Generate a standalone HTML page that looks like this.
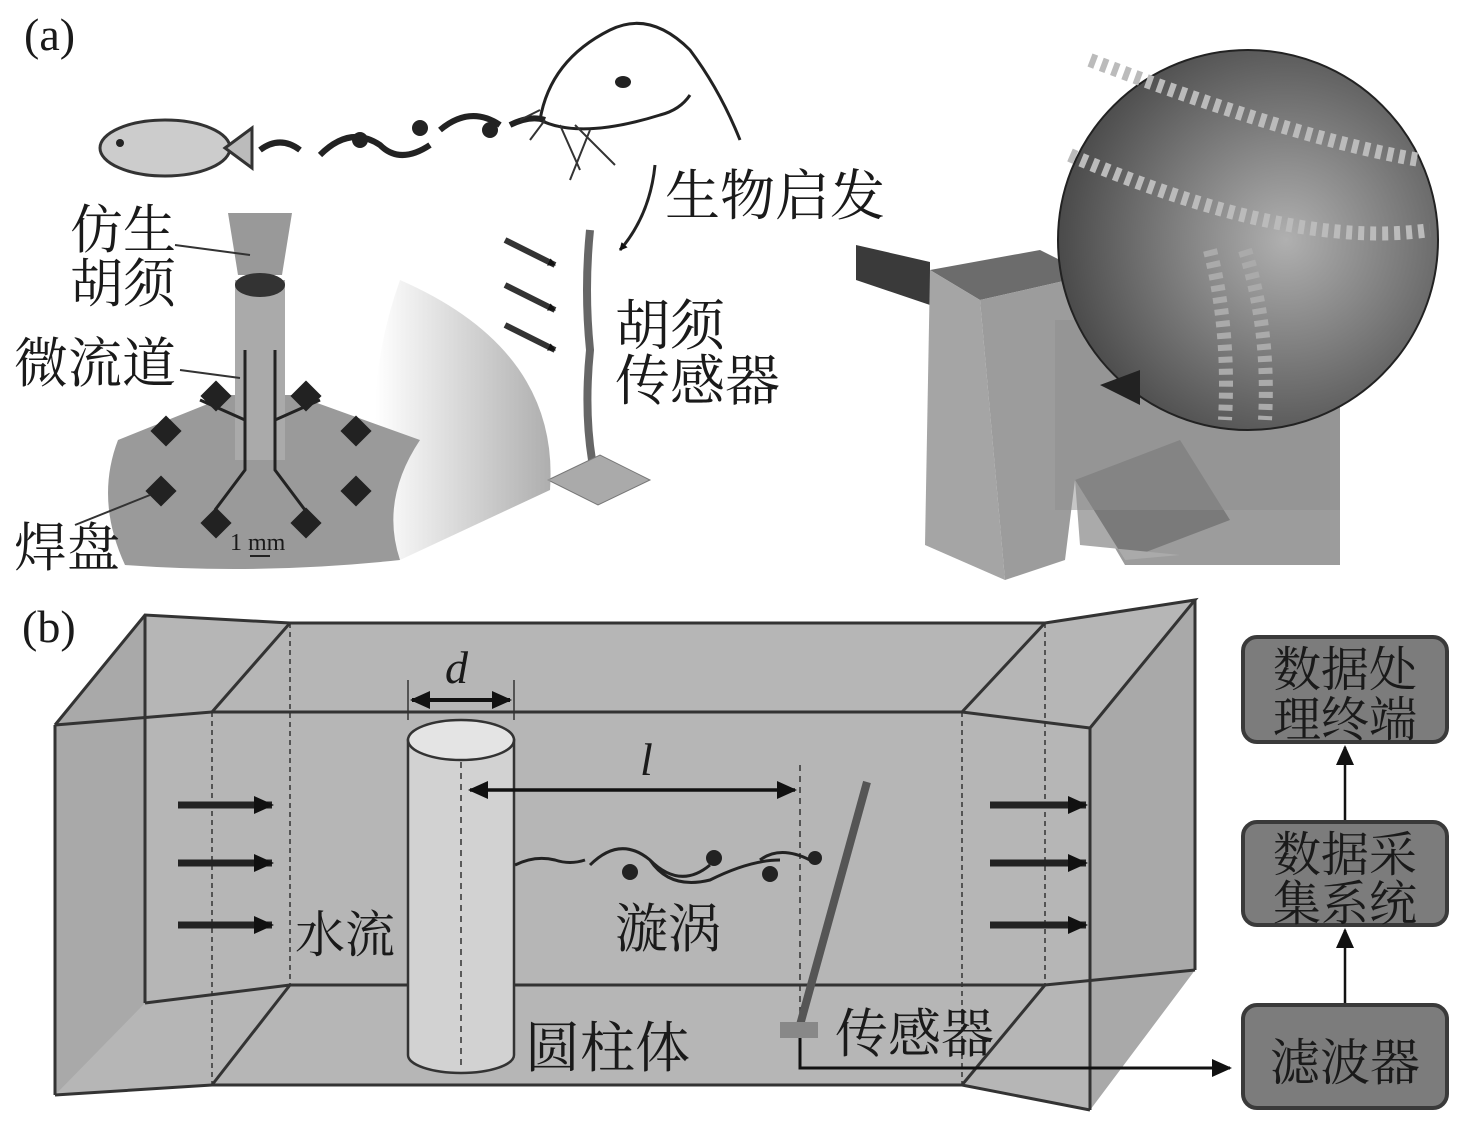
<!DOCTYPE html>
<html><head><meta charset="utf-8"><style>
html,body{margin:0;padding:0;background:#fff}
svg{display:block}
.t{font-family:"Liberation Serif","Noto Serif CJK SC","Noto Sans CJK SC",serif;fill:#1a1a1a}
</style></head><body>
<svg width="1476" height="1125" viewBox="0 0 1476 1125" xmlns="http://www.w3.org/2000/svg">
<defs>
<marker id="ah" markerWidth="8" markerHeight="8" refX="7" refY="4" orient="auto" markerUnits="userSpaceOnUse"><path d="M0,0 L8,4 L0,8z" fill="#111"/></marker>
<marker id="ah2" markerWidth="20" markerHeight="18" refX="18" refY="9" orient="auto" markerUnits="userSpaceOnUse"><path d="M0,0 L20,9 L0,18z" fill="#111"/></marker>
<marker id="ah2s" markerWidth="20" markerHeight="18" refX="2" refY="9" orient="auto" markerUnits="userSpaceOnUse"><path d="M20,0 L0,9 L20,18z" fill="#111"/></marker>
<radialGradient id="cg" cx="0.6" cy="0.5" r="0.6"><stop offset="0" stop-color="#b0b0b0"/><stop offset="1" stop-color="#4a4a4a"/></radialGradient>
<linearGradient id="cone" x1="0" x2="1"><stop offset="0" stop-color="#fff"/><stop offset="1" stop-color="#9a9a9a"/></linearGradient>
</defs>

<!-- (a) -->
<text class="t" x="24" y="50" font-size="46">(a)</text>
<ellipse cx="165" cy="148" rx="65" ry="28" fill="#ccc" stroke="#333" stroke-width="3"/>
<path d="M225,148 L252,128 L252,168z" fill="#bbb" stroke="#333" stroke-width="3"/>
<circle cx="120" cy="143" r="4" fill="#222"/>
<path d="M260,150 q20,-15 40,0 M320,155 q30,-30 60,-10 q20,20 50,0 M440,130 q30,-25 60,-5 M510,125 q20,-10 35,-5" stroke="#222" stroke-width="6" fill="none"/>
<circle cx="360" cy="140" r="8" fill="#222"/><circle cx="420" cy="128" r="8" fill="#222"/><circle cx="490" cy="130" r="8" fill="#222"/>
<path d="M540,120 q10,-60 70,-90 q40,-20 80,20 q30,40 50,90 M540,120 q40,20 120,-5 q20,-5 30,-20" stroke="#222" stroke-width="3" fill="none"/>
<ellipse cx="623" cy="82" rx="8" ry="6" fill="#222"/>
<path d="M540,110 l-20,10 M545,120 l-15,20 M560,125 l20,45 M575,125 l40,40 M590,130 l-20,50" stroke="#333" stroke-width="2"/>
<path d="M655,165 q-5,50 -35,85" stroke="#222" stroke-width="3" fill="none" marker-end="url(#ah)"/>
<text class="t" x="665" y="215" font-size="55">生物启发</text>
<path d="M590,230 q-6,60 0,120 q-6,60 2,110" stroke="#666" stroke-width="8" fill="none"/>
<polygon points="548,480 600,455 650,480 598,505" fill="#aaa" stroke="#777"/>
<g stroke="#333" stroke-width="6">
<line x1="505" y1="240" x2="555" y2="265" marker-end="url(#ah)"/>
<line x1="505" y1="285" x2="555" y2="310" marker-end="url(#ah)"/>
<line x1="505" y1="325" x2="555" y2="350" marker-end="url(#ah)"/>
</g>
<text class="t" x="615" y="345" font-size="55">胡须</text>
<text class="t" x="615" y="400" font-size="55">传感器</text>
<path d="M400,280 Q560,350 550,490 L400,560 Q350,420 400,280z" fill="url(#cone)" opacity="0.8"/>
<path d="M118,440 L230,395 L295,395 L420,440 Q380,500 400,560 Q260,575 125,565 Q95,500 118,440z" fill="#9a9a9a"/>
<rect x="235" y="280" width="50" height="180" fill="#aaa"/>
<polygon points="228,213 292,213 282,275 238,275" fill="#999"/>
<ellipse cx="260" cy="285" rx="25" ry="12" fill="#333"/>
<g fill="#222">
<rect x="155" y="420" width="22" height="22" transform="rotate(45 166 431)"/>
<rect x="205" y="385" width="22" height="22" transform="rotate(45 216 396)"/>
<rect x="295" y="385" width="22" height="22" transform="rotate(45 306 396)"/>
<rect x="345" y="420" width="22" height="22" transform="rotate(45 356 431)"/>
<rect x="150" y="480" width="22" height="22" transform="rotate(45 161 491)"/>
<rect x="205" y="512" width="22" height="22" transform="rotate(45 216 523)"/>
<rect x="295" y="512" width="22" height="22" transform="rotate(45 306 523)"/>
<rect x="345" y="480" width="22" height="22" transform="rotate(45 356 491)"/>
</g>
<path d="M245,350 L245,470 L215,510 M275,350 L275,470 L305,510 M245,420 L200,400 M275,420 L320,400" stroke="#222" stroke-width="3" fill="none"/>
<text class="t" x="70" y="248" font-size="53">仿生</text>
<text class="t" x="70" y="302" font-size="53">胡须</text>
<text class="t" x="14" y="382" font-size="54">微流道</text>
<text class="t" x="14" y="566" font-size="53">焊盘</text>
<text class="t" x="230" y="550" font-size="24">1 mm</text>
<line x1="250" y1="556" x2="270" y2="556" stroke="#222" stroke-width="2"/>
<line x1="175" y1="245" x2="250" y2="255" stroke="#333" stroke-width="2"/>
<line x1="180" y1="370" x2="240" y2="378" stroke="#333" stroke-width="2"/>
<line x1="75" y1="525" x2="150" y2="495" stroke="#333" stroke-width="2"/>

<polygon points="856,245 930,262 930,305 856,280" fill="#3a3a3a"/>
<polygon points="930,270 1040,250 1090,275 980,300" fill="#6c6c6c"/>
<polygon points="930,270 980,300 1005,580 925,545" fill="#a5a5a5"/>
<polygon points="980,300 1090,275 1340,280 1340,565 1125,565 1075,480 1065,560 1005,580" fill="#9c9c9c"/>
<polygon points="1075,480 1180,440 1230,520 1125,560" fill="#7a7a7a"/>
<polygon points="1075,480 1125,560 1180,555 1080,545" fill="#aaa"/>
<polygon points="1055,320 1340,320 1340,510 1055,510" fill="#8e8e8e" opacity="0.5"/>
<circle cx="1248" cy="240" r="190" fill="url(#cg)" stroke="#222" stroke-width="2"/>
<path d="M1090,60 Q1300,140 1420,160 M1070,155 Q1290,250 1430,230" stroke="#bbb" stroke-width="14" fill="none" stroke-dasharray="6 6"/>
<path d="M1210,250 Q1230,330 1225,420 M1245,250 Q1270,330 1265,420" stroke="#aaa" stroke-width="14" fill="none" stroke-dasharray="6 6"/>
<path d="M1140,370 L1100,385 L1140,405z" fill="#222"/>

<!-- (b) tank -->
<text class="t" x="22" y="642" font-size="46">(b)</text>
<polygon points="145,615 290,623 1045,623 1195,600 1195,970 1090,1110 962,1085 212,1085 55,1095 55,725" fill="#b6b6b6"/>
<polygon points="55,725 145,615 145,1003 55,1095" fill="#a9a9a9"/>
<polygon points="1090,728 1195,600 1195,970 1090,1110" fill="#a9a9a9"/>
<g stroke="#333" stroke-width="3" fill="none">
<polyline points="55,725 145,615 290,623 1045,623 1195,600 1090,728"/>
<polyline points="55,725 212,712 962,712 1090,728"/>
<line x1="55" y1="725" x2="55" y2="1095"/>
<line x1="145" y1="615" x2="145" y2="1003"/>
<line x1="1090" y1="728" x2="1090" y2="1110"/>
<line x1="1195" y1="600" x2="1195" y2="970"/>
<polyline points="55,1095 212,1085 962,1085 1090,1110"/>
<polyline points="145,1003 290,985 1045,985 1195,970"/>
<line x1="212" y1="712" x2="290" y2="623"/>
<line x1="962" y1="712" x2="1045" y2="623"/>
<line x1="212" y1="1085" x2="290" y2="985"/>
<line x1="962" y1="1085" x2="1045" y2="985"/>
</g>
<g stroke="#333" stroke-width="1.5" stroke-dasharray="5 4">
<line x1="212" y1="712" x2="212" y2="1085"/>
<line x1="290" y1="623" x2="290" y2="985"/>
<line x1="962" y1="712" x2="962" y2="1085"/>
<line x1="1045" y1="623" x2="1045" y2="985"/>
</g>
<g stroke="#222" stroke-width="7">
<line x1="178" y1="805" x2="272" y2="805" marker-end="url(#ah2)"/>
<line x1="178" y1="863" x2="272" y2="863" marker-end="url(#ah2)"/>
<line x1="178" y1="925" x2="272" y2="925" marker-end="url(#ah2)"/>
<line x1="990" y1="805" x2="1086" y2="805" marker-end="url(#ah2)"/>
<line x1="990" y1="863" x2="1086" y2="863" marker-end="url(#ah2)"/>
<line x1="990" y1="925" x2="1086" y2="925" marker-end="url(#ah2)"/>
</g>
<path d="M408,740 L408,1055 A53,18 0 0 0 514,1055 L514,740z" fill="#d2d2d2" stroke="#333" stroke-width="2.5"/>
<ellipse cx="461" cy="740" rx="53" ry="20" fill="#e4e4e4" stroke="#333" stroke-width="2.5"/>
<line x1="408" y1="680" x2="408" y2="720" stroke="#333" stroke-width="1.5"/>
<line x1="514" y1="680" x2="514" y2="720" stroke="#333" stroke-width="1.5"/>
<line x1="412" y1="700" x2="510" y2="700" stroke="#111" stroke-width="4" marker-end="url(#ah2)" marker-start="url(#ah2s)"/>
<line x1="461" y1="762" x2="461" y2="1065" stroke="#333" stroke-width="1.5" stroke-dasharray="6 5"/>
<line x1="800" y1="765" x2="800" y2="1040" stroke="#333" stroke-width="1.5" stroke-dasharray="6 5"/>
<line x1="470" y1="790" x2="795" y2="790" stroke="#111" stroke-width="3.5" marker-end="url(#ah2)" marker-start="url(#ah2s)"/>
<text class="t" x="445" y="683" font-size="46" font-style="italic">d</text>
<text class="t" x="640" y="775" font-size="46" font-style="italic">l</text>
<path d="M515,865 q20,-10 40,-5 q15,5 30,0 M590,865 q30,-30 60,-5 q30,30 60,5 M650,860 q20,30 60,20 q40,-20 70,-20 M760,860 q20,-15 50,0" stroke="#222" stroke-width="3" fill="none"/>
<circle cx="630" cy="872" r="8" fill="#222"/><circle cx="714" cy="858" r="8" fill="#222"/><circle cx="770" cy="874" r="8" fill="#222"/><circle cx="815" cy="858" r="7" fill="#222"/>
<line x1="867" y1="782" x2="800" y2="1025" stroke="#555" stroke-width="8"/>
<rect x="780" y="1022" width="38" height="16" fill="#888"/>
<polyline points="800,1038 800,1068 1230,1068" stroke="#111" stroke-width="3" fill="none" marker-end="url(#ah2)"/>
<text class="t" x="295" y="952" font-size="50">水流</text>
<text class="t" x="615" y="947" font-size="53">漩涡</text>
<text class="t" x="525" y="1067" font-size="55">圆柱体</text>
<text class="t" x="835" y="1052" font-size="53">传感器</text>
<g fill="#7c7c7c" stroke="#3a3a3a" stroke-width="4">
<rect x="1243" y="637" width="204" height="105" rx="14"/>
<rect x="1243" y="822" width="204" height="103" rx="14"/>
<rect x="1243" y="1005" width="204" height="103" rx="14"/>
</g>
<line x1="1345" y1="1003" x2="1345" y2="930" stroke="#111" stroke-width="2.5" marker-end="url(#ah2)"/>
<line x1="1345" y1="820" x2="1345" y2="747" stroke="#111" stroke-width="2.5" marker-end="url(#ah2)"/>
<text class="t" x="1345" y="686" font-size="48" text-anchor="middle">数据处</text>
<text class="t" x="1345" y="736" font-size="48" text-anchor="middle">理终端</text>
<text class="t" x="1345" y="871" font-size="48" text-anchor="middle">数据采</text>
<text class="t" x="1345" y="920" font-size="48" text-anchor="middle">集系统</text>
<text class="t" x="1345" y="1080" font-size="50" text-anchor="middle">滤波器</text>
</svg>
</body></html>
